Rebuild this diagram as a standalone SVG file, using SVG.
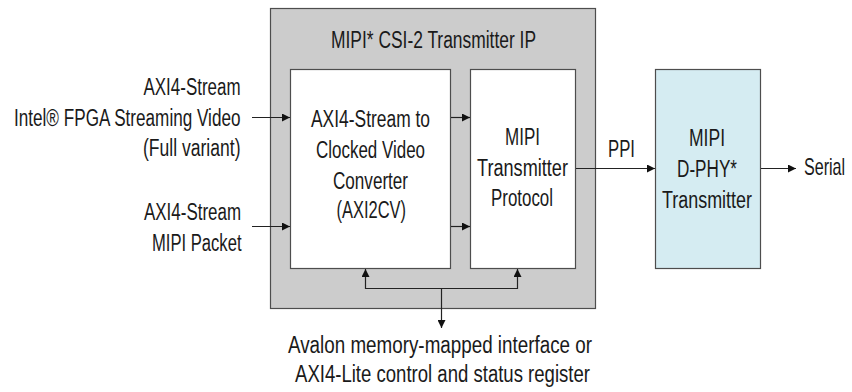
<svg xmlns="http://www.w3.org/2000/svg" width="852" height="392" viewBox="0 0 852 392">
<style>
text{font-family:"Liberation Sans",Arial,sans-serif;font-size:23px;fill:#1a1a1a}
.box{stroke:#4d4d4d;stroke-width:1.2}
.ln{stroke:#222;stroke-width:1.2;fill:none}
</style>
<defs>
<marker id="ah" viewBox="0 0 10 10" refX="10" refY="5" markerWidth="8" markerHeight="8" markerUnits="userSpaceOnUse" orient="auto-start-reverse"><path d="M0,0 L10,5 L0,10 z" fill="#111"/></marker>
</defs>
<g id="ip">
<rect class="box" x="270.5" y="8.5" width="325" height="300" fill="#cccccc"/>
<text x="331" y="48" textLength="205" lengthAdjust="spacingAndGlyphs">MIPI* CSI-2 Transmitter IP</text>
</g>
<g id="axi2cv">
<rect class="box" x="290.5" y="69.5" width="160" height="199" fill="#ffffff"/>
<text x="311" y="127" textLength="119" lengthAdjust="spacingAndGlyphs">AXI4-Stream to</text>
<text x="316" y="158" textLength="109" lengthAdjust="spacingAndGlyphs">Clocked Video</text>
<text x="333" y="189" textLength="75" lengthAdjust="spacingAndGlyphs">Converter</text>
<text x="336.5" y="218" textLength="69.5" lengthAdjust="spacingAndGlyphs">(AXI2CV)</text>
</g>
<g id="protocol">
<rect class="box" x="470.5" y="69.5" width="105" height="199" fill="#ffffff"/>
<text x="505" y="145" textLength="35" lengthAdjust="spacingAndGlyphs">MIPI</text>
<text x="477" y="176" textLength="91" lengthAdjust="spacingAndGlyphs">Transmitter</text>
<text x="491" y="206" textLength="62" lengthAdjust="spacingAndGlyphs">Protocol</text>
</g>
<g id="dphy">
<rect class="box" x="655.5" y="69.5" width="105" height="199" fill="#d5ecf2"/>
<text x="689" y="146" textLength="36" lengthAdjust="spacingAndGlyphs">MIPI</text>
<text x="677" y="177" textLength="60" lengthAdjust="spacingAndGlyphs">D-PHY*</text>
<text x="662" y="208" textLength="90" lengthAdjust="spacingAndGlyphs">Transmitter</text>
</g>
<g id="labels">
<text x="143.5" y="95" textLength="97" lengthAdjust="spacingAndGlyphs">AXI4-Stream</text>
<text x="14" y="126" textLength="226.5" lengthAdjust="spacingAndGlyphs">Intel® FPGA Streaming Video</text>
<text x="143" y="156" textLength="97.5" lengthAdjust="spacingAndGlyphs">(Full variant)</text>
<text x="144" y="220" textLength="97" lengthAdjust="spacingAndGlyphs">AXI4-Stream</text>
<text x="152" y="251" textLength="89.5" lengthAdjust="spacingAndGlyphs">MIPI Packet</text>
<text x="608" y="157" textLength="27" lengthAdjust="spacingAndGlyphs">PPI</text>
<text transform="translate(804,175) scale(0.7,1)" x="0" y="0">Serial</text>
<text x="288" y="353" textLength="304" lengthAdjust="spacingAndGlyphs">Avalon memory-mapped interface or</text>
<text x="295" y="382" textLength="295" lengthAdjust="spacingAndGlyphs">AXI4-Lite control and status register</text>
</g>
<g id="connectors">
<line class="ln" x1="252" y1="117.5" x2="290" y2="117.5" marker-end="url(#ah)"/>
<line class="ln" x1="252" y1="226.5" x2="290" y2="226.5" marker-end="url(#ah)"/>
<line class="ln" x1="451" y1="117.5" x2="470" y2="117.5" marker-end="url(#ah)"/>
<line class="ln" x1="451" y1="226.5" x2="470" y2="226.5" marker-end="url(#ah)"/>
<line class="ln" x1="576" y1="168.5" x2="655" y2="168.5" marker-end="url(#ah)"/>
<line class="ln" x1="761" y1="168.5" x2="796" y2="168.5" marker-end="url(#ah)"/>
<polyline class="ln" points="365.5,269 365.5,288.5 517.5,288.5 517.5,269" marker-start="url(#ah)" marker-end="url(#ah)"/>
<line class="ln" x1="441.5" y1="288.5" x2="441.5" y2="328" marker-end="url(#ah)"/>
</g>
</svg>
